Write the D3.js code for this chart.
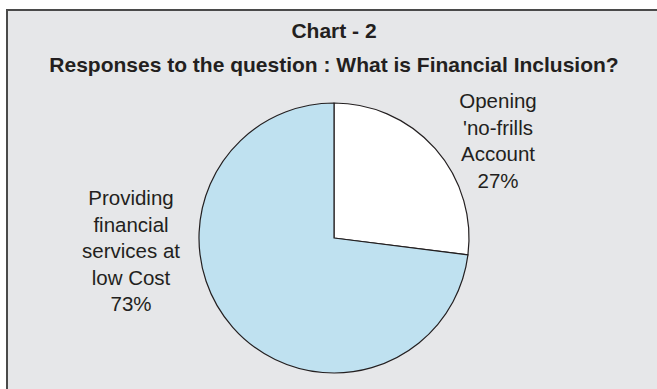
<!DOCTYPE html>
<html>
<head>
<meta charset="utf-8">
<script src="https://cdn.jsdelivr.net/npm/d3@7.9.0/dist/d3.min.js"></script>
<style>
  html, body { margin: 0; padding: 0; background: #fff; }
  svg { display: block; }
  text { font-family: "Liberation Sans", Arial, Helvetica, sans-serif; fill: #231f20; }
</style>
</head>
<body>
<svg id="chart" width="657" height="389"></svg>
<script>
// data
const categories = ["Opening 'no-frills Account", "Providing financial services at low Cost"];
const shares     = [27, 73];
const labelLines = [
  ["Opening", "'no-frills", "Account", "27%"],
  ["Providing", "financial", "services at", "low Cost", "73%"]
];
const sliceColors = ["#ffffff", "#bfe1f0"];

const W = 657, H = 389;
const cx = 334, cy = 238, radius = 135;

const svg = d3.select('#chart');

// panel
svg.append('rect')
   .attr('x', 7).attr('y', 10)
   .attr('width', W + 20).attr('height', H + 20)
   .attr('fill', '#e6e7e9')
   .attr('stroke', '#4a4a4a')
   .attr('stroke-width', 2);

// titles
svg.append('text')
   .attr('x', cx).attr('y', 38)
   .attr('text-anchor', 'middle')
   .style('font-size', '21px').style('font-weight', 'bold')
   .text('Chart - 2');

svg.append('text')
   .attr('x', cx).attr('y', 72)
   .attr('text-anchor', 'middle')
   .style('font-size', '21px').style('font-weight', 'bold')
   .text('Responses to the question : What is Financial Inclusion?');

// pie
const data = categories.map((c, i) => ({ label: c, value: shares[i] }));
const pie  = d3.pie().sort(null).value(d => d.value);
const arc  = d3.arc().innerRadius(0).outerRadius(radius);

const g = svg.append('g').attr('transform', `translate(${cx},${cy})`);

g.selectAll('path')
 .data(pie(data))
 .join('path')
   .attr('d', arc)
   .attr('fill', (d, i) => sliceColors[i])
   .attr('stroke', '#231f20')
   .attr('stroke-width', 1.2)
   .attr('stroke-linejoin', 'round');

// labels (centre x, first baseline)
const labelPos = [[498, 108], [131, 205]];
const lineGap = 26.5;

labelLines.forEach((lines, i) => {
  const t = svg.append('text')
     .attr('text-anchor', 'middle')
     .style('font-size', '20.5px');
  lines.forEach((ln, j) => {
    t.append('tspan')
     .attr('x', labelPos[i][0])
     .attr('y', labelPos[i][1] + j * lineGap)
     .text(ln);
  });
});
</script>
</body>
</html>
